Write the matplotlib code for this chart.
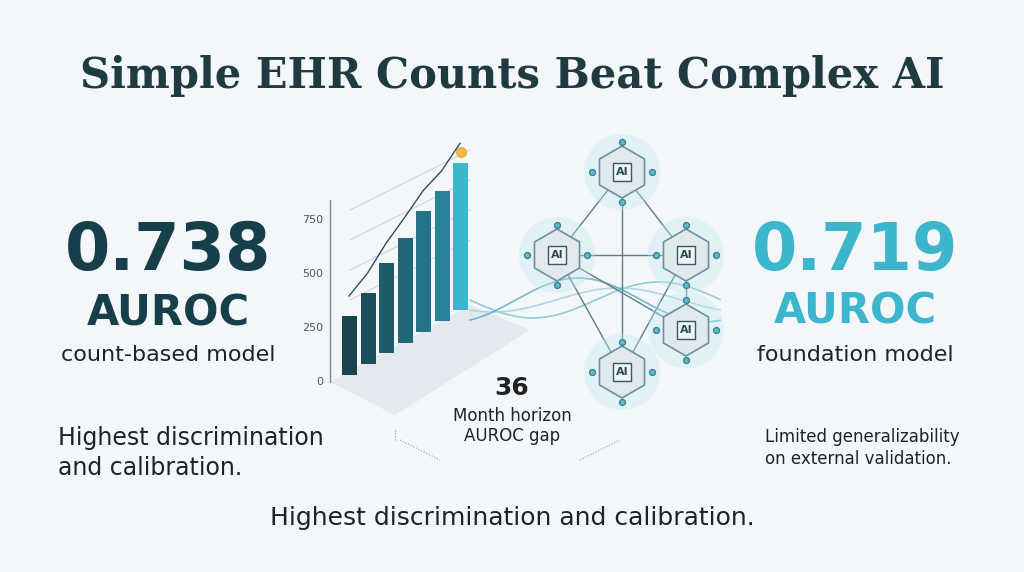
import matplotlib.pyplot as plt
import numpy as np
from matplotlib.patches import RegularPolygon, Polygon

# data
bar_values = [273, 329, 417, 486, 560, 602, 680]
tick_values = [0, 250, 500, 750]
left_score = "0.738"
right_score = "0.719"
node_pos = [(622, 172), (557, 255), (686, 255), (686, 330), (622, 372)]
edges = [(0, 1), (0, 2), (1, 2), (1, 3), (2, 4), (1, 4), (0, 4), (2, 3)]

fig = plt.figure(figsize=(10.24, 5.72), dpi=100)
fig.patch.set_facecolor("#f4f7f9")
ax = fig.add_axes([0, 0, 1, 1])
ax.set_xlim(0, 1024)
ax.set_ylim(572, 0)
ax.axis("off")

dark = "#173f4a"
cyan = "#3cb6cc"

ax.text(512, 76, "Simple EHR Counts Beat Complex AI", ha="center", va="center",
        fontsize=30, family="DejaVu Serif", weight="semibold", color="#1f3a40")

# left block
ax.text(168, 252, left_score, ha="center", va="center", fontsize=47, weight="bold", color=dark)
ax.text(168, 313, "AUROC", ha="center", va="center", fontsize=30, weight="bold", color=dark)
ax.text(168, 355, "count-based model", ha="center", va="center", fontsize=16, color="#222")
ax.text(58, 453, "Highest discrimination\nand calibration.", ha="left", va="center",
        fontsize=17, color="#222", linespacing=1.3)

# right block
ax.text(855, 252, right_score, ha="center", va="center", fontsize=47, weight="bold", color=cyan)
ax.text(855, 312, "AUROC", ha="center", va="center", fontsize=30, weight="bold", color=cyan)
ax.text(855, 355, "foundation model", ha="center", va="center", fontsize=16, color="#222")
ax.text(765, 448, "Limited generalizability\non external validation.", ha="left", va="center",
        fontsize=12, color="#222", linespacing=1.3)

ax.text(512, 518, "Highest discrimination and calibration.", ha="center", va="center",
        fontsize=18, color="#222")

# middle labels
ax.text(512, 388, "36", ha="center", va="center", fontsize=18, weight="bold", color="#222")
ax.text(512, 426, "Month horizon\nAUROC gap", ha="center", va="center", fontsize=12,
        color="#222", linespacing=1.2)

# bar chart (skewed isometric)
px_per_unit = 54 / 250
y0 = 382
ax.plot([330, 330], [200, y0], color="#888", lw=1)
for t in tick_values:
    ax.text(323, y0 - t * px_per_unit, str(t), ha="right", va="center", fontsize=8, color="#555")
floor = Polygon([[330, y0], [470, 305], [530, 330], [395, 415]], closed=True,
                facecolor="#dde4ea", edgecolor="none", alpha=0.7, zorder=1)
ax.add_patch(floor)
n = len(bar_values)
xs = 342 + 18.5 * np.arange(n)
bases = 375 - 10.8 * np.arange(n)
cols = ["#17444f", "#1b4f5d", "#1e5b6b", "#216679", "#247387", "#2a8198", cyan]
ax.bar(xs, [-v * px_per_unit for v in bar_values], bottom=bases, width=15,
       align="edge", color=cols, zorder=3)
ax.scatter([461], [152], s=50, color="#f5a623", zorder=4, alpha=0.8)
# trend line over bars
tx = xs + 7
ty = bases - np.array(bar_values) * px_per_unit - 20
ax.plot(tx, ty, color="#2f4f5a", lw=1, zorder=4)
for k in range(4):
    ax.plot([350, 470], [300 - 30 * k, 240 - 30 * k], color="#ccd6dc", lw=0.8, zorder=0)
ax.plot([395, 395], [430, 440], color="#999", lw=0.8, ls=":")
ax.plot([400, 440], [440, 460], color="#999", lw=0.8, ls=":")
ax.plot([580, 620], [460, 440], color="#999", lw=0.8, ls=":")

# waves
wx = np.linspace(470, 720, 200)
for a, ph, c in [(18, 0, "#7bbfd0"), (12, 1.0, "#9ccfdc"), (22, 2.0, "#5aa9bf")]:
    ax.plot(wx, 300 + a * np.sin((wx - 470) / 40 + ph), color=c, lw=1.2, alpha=0.8, zorder=2)

# network
for i, j in edges:
    (x1, y1), (x2, y2) = node_pos[i], node_pos[j]
    ax.plot([x1, x2], [y1, y2], color="#5b7f88", lw=1, zorder=2)
for x, y in node_pos:
    ax.scatter([x], [y], s=3000, color="#bfe9f2", alpha=0.35, zorder=2, edgecolors="none")
    ax.add_patch(RegularPolygon((x, y), 6, radius=26, orientation=0,
                                facecolor="#dfe9ee", edgecolor="#6f8f99", lw=1.2, zorder=5))
    ax.add_patch(RegularPolygon((x, y), 4, radius=13, orientation=np.pi / 4,
                                facecolor="#eef4f6", edgecolor="#355a64", lw=1, zorder=6))
    ax.text(x, y, "AI", ha="center", va="center", fontsize=8, weight="bold", color="#2a4a53", zorder=7)
    for dx, dy in [(0, -30), (0, 30), (-30, 0), (30, 0)]:
        ax.scatter([x + dx], [y + dy], s=18, color="#5bbdd0", edgecolors="#3f7f8f", zorder=6)

fig.savefig("out.png", dpi=100, facecolor=fig.get_facecolor())
